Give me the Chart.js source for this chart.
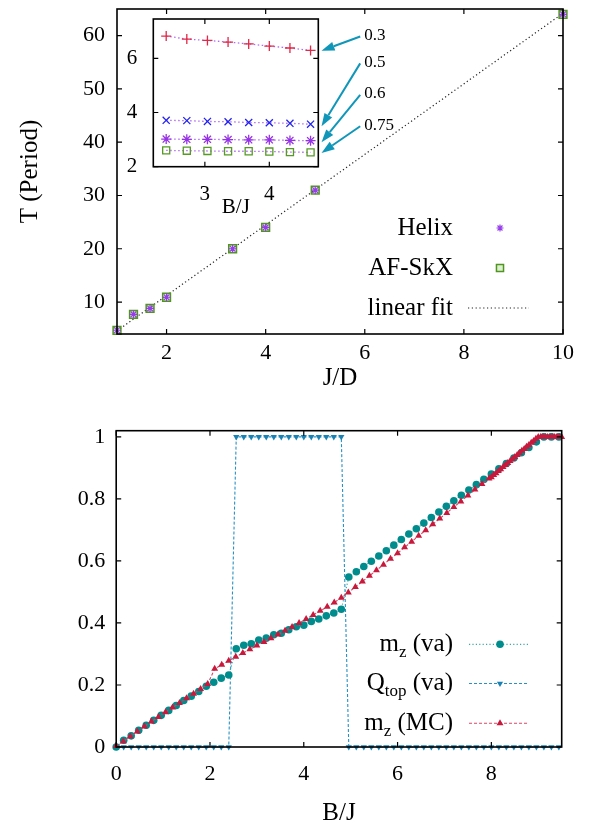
<!DOCTYPE html>
<html>
<head>
<meta charset="utf-8">
<script src="https://cdn.jsdelivr.net/npm/chart.js@4.4.1/dist/chart.umd.min.js"></script>
<style>
  body { margin: 0; background: #fff; width: 590px; height: 825px; position: relative; overflow: hidden; }
  canvas { position: absolute; }
  #topChart { left: 0; top: 0; }
  #insetChart { left: 100px; top: 0; }
  #bottomChart { left: 0; top: 400px; }
</style>
</head>
<body>
<canvas id="topChart" width="590" height="400" style="width:590px;height:400px"></canvas>
<canvas id="insetChart" width="300" height="220" style="width:300px;height:220px"></canvas>
<canvas id="bottomChart" width="590" height="430" style="width:590px;height:430px"></canvas>
<script>
// ---- top panel: period vs J/D ----
var jd = [1, 1.333, 1.667, 2, 3.333, 4, 5, 10];
var periodHelix = [4.7, 7.7, 8.8, 10.9, 20, 24, 31, 64];
var periodSkX = [4.7, 7.7, 8.8, 10.9, 20, 24, 31, 64];
var fitJD = [1, 10];
var fitT = [4.6, 64.2];
var topXTicks = [2, 4, 6, 8, 10];
var topYTicks = [10, 20, 30, 40, 50, 60];

// ---- inset: period vs B/J for several J/D ----
var insetB = [2.4, 2.72, 3.04, 3.36, 3.68, 4.0, 4.32, 4.64];
var ins03 = [6.82, 6.71, 6.66, 6.60, 6.53, 6.45, 6.38, 6.29];
var ins05 = [3.71, 3.70, 3.67, 3.66, 3.63, 3.62, 3.60, 3.57];
var ins06 = [3.02, 3.01, 3.01, 3.00, 2.99, 2.99, 2.97, 2.96];
var ins075 = [2.60, 2.59, 2.58, 2.57, 2.57, 2.56, 2.54, 2.53];
var insetXTicks = [3, 4];
var insetYTicks = [2, 4, 6];
var arrowLabels = ['0.3', '0.5', '0.6', '0.75'];

// ---- bottom panel: magnetisation / Q vs B/J ----
var bVA = [0, 0.16, 0.32, 0.48, 0.64, 0.8, 0.96, 1.12, 1.28, 1.44, 1.6, 1.76, 1.92, 2.08, 2.24, 2.4,
  2.56, 2.72, 2.88, 3.04, 3.2, 3.36, 3.52, 3.68, 3.84, 4.0, 4.16, 4.32, 4.48, 4.64, 4.8,
  4.96, 5.12, 5.28, 5.44, 5.6, 5.76, 5.92, 6.08, 6.24, 6.4, 6.56, 6.72, 6.88, 7.04, 7.2,
  7.36, 7.52, 7.68, 7.84, 8.0, 8.16, 8.32, 8.48, 8.64, 8.8, 8.96, 9.12, 9.28, 9.44];
var mzVA = [0, 0.022, 0.036, 0.054, 0.070, 0.086, 0.102, 0.118, 0.134, 0.150, 0.164, 0.179, 0.196, 0.209, 0.222, 0.232,
  0.317, 0.328, 0.333, 0.345, 0.351, 0.362, 0.367, 0.378, 0.388, 0.393, 0.405, 0.413, 0.423, 0.432, 0.444,
  0.548, 0.565, 0.582, 0.599, 0.616, 0.633, 0.651, 0.669, 0.687, 0.704, 0.722, 0.740, 0.758, 0.776, 0.794,
  0.812, 0.829, 0.846, 0.863, 0.880, 0.897, 0.914, 0.932, 0.949, 0.966, 0.984, 1, 1, 1];
var qVA = [0, 0, 0, 0, 0, 0, 0, 0, 0, 0, 0, 0, 0, 0, 0, 0,
  1, 1, 1, 1, 1, 1, 1, 1, 1, 1, 1, 1, 1, 1, 1,
  0, 0, 0, 0, 0, 0, 0, 0, 0, 0, 0, 0, 0, 0, 0,
  0, 0, 0, 0, 0, 0, 0, 0, 0, 0, 0, 0, 0, 0];
var bMC = [0, 0.15, 0.3, 0.45, 0.6, 0.75, 0.9, 1.05, 1.2, 1.35, 1.5, 1.65, 1.8, 1.95, 2.1, 2.25, 2.4, 2.55,
  2.7, 2.85, 3.0, 3.15, 3.3, 3.45, 3.6, 3.75, 3.9, 4.05, 4.2, 4.35, 4.5, 4.65, 4.8, 4.95, 5.1, 5.25,
  5.4, 5.55, 5.7, 5.85, 6.0, 6.15, 6.3, 6.45, 6.6, 6.75, 6.9, 7.05, 7.2, 7.35, 7.5, 7.65, 7.8, 7.95,
  8.0, 8.05, 8.1, 8.15, 8.2, 8.25, 8.3, 8.35, 8.4, 8.45, 8.5, 8.55, 8.6, 8.65, 8.7, 8.75, 8.8, 8.85,
  8.9, 8.95, 9.0, 9.05, 9.1, 9.15, 9.2, 9.25, 9.3, 9.35, 9.4, 9.45, 9.5];
var mzMC = [0.003, 0.018, 0.034, 0.050, 0.066, 0.082, 0.097, 0.112, 0.127, 0.142, 0.157, 0.172, 0.187, 0.203, 0.252, 0.265, 0.278, 0.291,
  0.303, 0.315, 0.327, 0.339, 0.351, 0.363, 0.375, 0.387, 0.400, 0.413, 0.426, 0.439, 0.452, 0.466, 0.481, 0.498, 0.516, 0.534,
  0.552, 0.570, 0.588, 0.607, 0.625, 0.644, 0.662, 0.681, 0.699, 0.718, 0.737, 0.755, 0.774, 0.792, 0.811, 0.830, 0.848, 0.866,
  0.870, 0.877, 0.883, 0.890, 0.896, 0.903, 0.909, 0.916, 0.922, 0.929, 0.935, 0.942, 0.948, 0.955, 0.961, 0.968, 0.974, 0.981,
  0.987, 0.994, 1, 1, 1, 1, 1, 1, 1, 1, 1, 1, 1];
var botXTicks = [0, 2, 4, 6, 8];
var botYTicks = [0, 0.2, 0.4, 0.6, 0.8, 1];

var serif = "'Liberation Serif', 'Times New Roman', serif";
Chart.defaults.font.family = serif;
Chart.defaults.color = '#000';

function pts(xs, ys) {
  return xs.map(function(x, i) { return { x: x, y: ys[i] }; });
}

function fixTicks(list) {
  return function(axis) {
    axis.ticks = list.map(function(v) { return { value: v }; });
  };
}

// force the axis box size and drop the label overhang padding,
// so the plot frame lands where the reference has it
function fitH(h) {
  return function(s) { s.height = h; s.paddingLeft = 0; s.paddingRight = 0; };
}
function fitW(w) {
  return function(s) { s.width = w; s.paddingTop = 0; s.paddingBottom = 0; };
}

// closed frame with gnuplot style inward ticks on all four sides
var frameTicks = {
  id: 'frameTicks',
  afterDraw: function(chart) {
    var ctx = chart.ctx, a = chart.chartArea;
    var xs = chart.scales.x, ys = chart.scales.y;
    var len = 5;
    ctx.save();
    ctx.strokeStyle = '#000';
    ctx.setLineDash([]);
    ctx.lineWidth = 1.2;
    ctx.beginPath();
    xs.ticks.forEach(function(t) {
      var p = xs.getPixelForValue(t.value);
      ctx.moveTo(p, a.bottom); ctx.lineTo(p, a.bottom - len);
      ctx.moveTo(p, a.top); ctx.lineTo(p, a.top + len);
    });
    ys.ticks.forEach(function(t) {
      var p = ys.getPixelForValue(t.value);
      ctx.moveTo(a.left, p); ctx.lineTo(a.left + len, p);
      ctx.moveTo(a.right, p); ctx.lineTo(a.right - len, p);
    });
    ctx.stroke();
    ctx.lineWidth = 1.6;
    ctx.strokeRect(a.left, a.top, a.right - a.left, a.bottom - a.top);
    ctx.restore();
  }
};

// gnuplot style key: text right aligned, sample to the right
function keyPlugin(items, textRight, lineL, lineR, pointX) {
  return {
    id: 'key',
    afterDraw: function(chart) {
      var ctx = chart.ctx;
      ctx.save();
      items.forEach(function(it) {
        var ds = chart.data.datasets[it.ds];
        var w = 0;
        it.parts.forEach(function(p) {
          ctx.font = (p[1] ? '17px ' : '25px ') + serif;
          w += ctx.measureText(p[0]).width;
        });
        var x = textRight - w;
        ctx.fillStyle = '#000';
        ctx.textBaseline = 'middle';
        ctx.textAlign = 'left';
        it.parts.forEach(function(p) {
          ctx.font = (p[1] ? '17px ' : '25px ') + serif;
          ctx.fillText(p[0], x, it.y + (p[1] ? 8 : 0));
          x += ctx.measureText(p[0]).width;
        });
        if (it.line) {
          ctx.strokeStyle = ds.borderColor;
          ctx.lineWidth = ds.borderWidth;
          ctx.setLineDash(ds.borderDash || []);
          ctx.beginPath();
          ctx.moveTo(lineL, it.y);
          ctx.lineTo(lineR, it.y);
          ctx.stroke();
          ctx.setLineDash([]);
        }
        if (it.point) {
          ctx.fillStyle = ds.pointBackgroundColor;
          ctx.strokeStyle = ds.pointBorderColor;
          ctx.lineWidth = ds.pointBorderWidth;
          Chart.helpers.drawPoint(ctx, {
            pointStyle: ds.pointStyle,
            radius: it.r || ds.pointRadius,
            rotation: ds.pointRotation || 0,
            borderWidth: ds.pointBorderWidth
          }, pointX, it.y);
        }
      });
      ctx.restore();
    }
  };
}

// ================= top chart =================
new Chart(document.getElementById('topChart'), {
  type: 'scatter',
  data: {
    datasets: [
      {
        label: 'Helix', data: pts(jd, periodHelix), showLine: false,
        pointStyle: 'star', pointRadius: 4, pointBorderWidth: 1.2,
        pointBorderColor: 'rgb(150,60,235)', pointBackgroundColor: 'rgb(150,60,235)', clip: false
      },
      {
        label: 'AF-SkX', data: pts(jd, periodSkX), showLine: false,
        pointStyle: 'rect', pointRadius: 5.5, pointBorderWidth: 1.5,
        pointBorderColor: 'rgb(80,150,30)', pointBackgroundColor: 'rgba(120,190,80,0.25)', clip: false
      },
      {
        label: 'linear fit', data: pts(fitJD, fitT), showLine: true,
        borderColor: '#222', borderWidth: 1.2, borderDash: [1.2, 2.6], pointRadius: 0
      }
    ]
  },
  options: {
    responsive: false, animation: false, devicePixelRatio: 1,
    layout: { padding: { top: 9, right: 27, left: 0, bottom: 0 } },
    plugins: { legend: { display: false }, tooltip: { enabled: false } },
    scales: {
      x: {
        type: 'linear', min: 1, max: 10,
        afterBuildTicks: fixTicks(topXTicks),
        afterFit: fitH(66),
        grid: { display: false, drawTicks: false }, border: { display: false },
        ticks: { font: { size: 22 }, padding: 6, autoSkip: false, maxRotation: 0 },
        title: { display: true, text: 'J/D', font: { size: 25 }, padding: { top: 0, bottom: 7 } }
      },
      y: {
        type: 'linear', min: 4, max: 65,
        afterBuildTicks: fixTicks(topYTicks),
        afterFit: fitW(117),
        grid: { display: false, drawTicks: false }, border: { display: false },
        ticks: { font: { size: 22 }, padding: 12, autoSkip: false },
        title: { display: true, text: 'T (Period)', font: { size: 25 }, padding: { top: 15, bottom: 0 } }
      }
    }
  },
  plugins: [frameTicks, keyPlugin([
    { parts: [['Helix', 0]], y: 228, ds: 0, point: true, r: 3.5 },
    { parts: [['AF-SkX', 0]], y: 268, ds: 1, point: true, r: 5 },
    { parts: [['linear fit', 0]], y: 308, ds: 2, line: true }
  ], 453, 468, 529, 500)]
});

// ================= inset =================
var insetLine = 'rgba(165,80,240,0.85)';
function insetSet(vals, style, color) {
  return {
    data: pts(insetB, vals), showLine: true,
    borderColor: insetLine, borderWidth: 1.3, borderDash: [1.5, 2.5],
    pointStyle: style, pointRadius: 5, pointBorderWidth: 1.3,
    pointBorderColor: color, pointBackgroundColor: 'rgba(0,0,0,0)', clip: false
  };
}

var insetArrows = {
  id: 'insetArrows',
  afterDraw: function(chart) {
    var ctx = chart.ctx, xs = chart.scales.x, ys = chart.scales.y;
    // label anchor and arrow tip given in inset data coordinates
    var textY = [6.84, 5.85, 4.69, 3.53];
    var tipY = [6.28, 3.49, 2.90, 2.51];
    var tailX = xs.getPixelForValue(5.41), tipX = xs.getPixelForValue(4.81);
    ctx.save();
    ctx.strokeStyle = 'rgb(15,150,185)';
    ctx.lineWidth = 2;
    arrowLabels.forEach(function(lab, i) {
      var ty = ys.getPixelForValue(textY[i]) + 1;
      var py = ys.getPixelForValue(tipY[i]);
      var ang = Math.atan2(py - ty, tipX - tailX);
      var hl = 13, hw = 4.5;
      var bx = tipX - hl * Math.cos(ang), by = py - hl * Math.sin(ang);
      ctx.fillStyle = 'rgb(15,150,185)';
      ctx.beginPath();
      ctx.moveTo(tailX, ty);
      ctx.lineTo(bx, by);
      ctx.stroke();
      ctx.beginPath();
      ctx.moveTo(tipX, py);
      ctx.lineTo(bx + hw * Math.sin(ang), by - hw * Math.cos(ang));
      ctx.lineTo(bx - hw * Math.sin(ang), by + hw * Math.cos(ang));
      ctx.closePath();
      ctx.fill();
      ctx.fillStyle = '#000';
      ctx.font = '17px ' + serif;
      ctx.textAlign = 'left';
      ctx.textBaseline = 'middle';
      ctx.fillText(lab, tailX + 4, ys.getPixelForValue(textY[i]));
    });
    ctx.restore();
  }
};

new Chart(document.getElementById('insetChart'), {
  type: 'scatter',
  data: {
    datasets: [
      insetSet(ins03, 'cross', 'rgb(225,40,70)'),
      insetSet(ins05, 'crossRot', 'rgb(35,35,240)'),
      insetSet(ins06, 'star', 'rgb(150,50,230)'),
      insetSet(ins075, 'rect', 'rgb(85,155,35)')
    ]
  },
  options: {
    responsive: false, animation: false, devicePixelRatio: 1,
    layout: { padding: { top: 19, right: 81.7, left: 0, bottom: 0 } },
    plugins: { legend: { display: false }, tooltip: { enabled: false } },
    scales: {
      x: {
        type: 'linear', min: 2.2, max: 4.76,
        afterBuildTicks: fixTicks(insetXTicks),
        afterFit: fitH(53.3),
        grid: { display: false, drawTicks: false }, border: { display: false },
        ticks: { font: { size: 21 }, padding: 15, autoSkip: false, maxRotation: 0 },
        title: { display: true, text: 'B/J', font: { size: 21 }, padding: { top: 0, bottom: 0 } }
      },
      y: {
        type: 'linear', min: 2, max: 7.45,
        afterBuildTicks: fixTicks(insetYTicks),
        afterFit: fitW(53.3),
        grid: { display: false, drawTicks: false }, border: { display: false },
        ticks: { font: { size: 21 }, padding: 16, autoSkip: false }
      }
    }
  },
  plugins: [frameTicks, insetArrows]
});

// ================= bottom chart =================
new Chart(document.getElementById('bottomChart'), {
  type: 'scatter',
  data: {
    datasets: [
      {
        label: 'mz (va)', data: pts(bVA, mzVA), showLine: true, order: 1,
        borderColor: 'rgb(60,170,170)', borderWidth: 1.2, borderDash: [1.2, 2.2],
        pointStyle: 'circle', pointRadius: 3.8, pointBorderWidth: 0,
        pointBorderColor: 'rgb(0,140,140)', pointBackgroundColor: 'rgb(0,140,140)', clip: false
      },
      {
        label: 'Qtop (va)', data: pts(bVA, qVA), showLine: true, order: 2,
        borderColor: 'rgb(40,145,195)', borderWidth: 1.1, borderDash: [3, 2],
        pointStyle: 'triangle', pointRotation: 180, pointRadius: 3.6, pointBorderWidth: 0,
        pointBorderColor: 'rgb(25,130,180)', pointBackgroundColor: 'rgb(25,130,180)', clip: false
      },
      {
        label: 'mz (MC)', data: pts(bMC, mzMC), showLine: true, order: 0,
        borderColor: 'rgb(215,70,100)', borderWidth: 1.1, borderDash: [3, 2],
        pointStyle: 'triangle', pointRadius: 4, pointBorderWidth: 0,
        pointBorderColor: 'rgb(200,25,60)', pointBackgroundColor: 'rgb(200,25,60)', clip: false
      }
    ]
  },
  options: {
    responsive: false, animation: false, devicePixelRatio: 1,
    layout: { padding: { top: 30.7, right: 28.3, left: 0, bottom: 0 } },
    plugins: { legend: { display: false }, tooltip: { enabled: false } },
    scales: {
      x: {
        type: 'linear', min: 0, max: 9.5,
        afterBuildTicks: fixTicks(botXTicks),
        afterFit: fitH(83),
        grid: { display: false, drawTicks: false }, border: { display: false },
        ticks: { font: { size: 22 }, padding: 14, autoSkip: false, maxRotation: 0 },
        title: { display: true, text: 'B/J', font: { size: 25 }, padding: { top: 0, bottom: 2 } }
      },
      y: {
        type: 'linear', min: 0, max: 1.02,
        afterBuildTicks: fixTicks(botYTicks),
        afterFit: fitW(116.2),
        grid: { display: false, drawTicks: false }, border: { display: false },
        ticks: { font: { size: 22 }, padding: 11, autoSkip: false,
          callback: function(v) { return String(v); } }
      }
    }
  },
  plugins: [frameTicks, keyPlugin([
    { parts: [['m', 0], ['z', 1], [' (va)', 0]], y: 244.3, ds: 0, point: true, line: true },
    { parts: [['Q', 0], ['top', 1], [' (va)', 0]], y: 283.5, ds: 1, point: true, line: true },
    { parts: [['m', 0], ['z', 1], [' (MC)', 0]], y: 323.3, ds: 2, point: true, line: true }
  ], 453, 469, 528, 500)]
});
</script>
</body>
</html>
